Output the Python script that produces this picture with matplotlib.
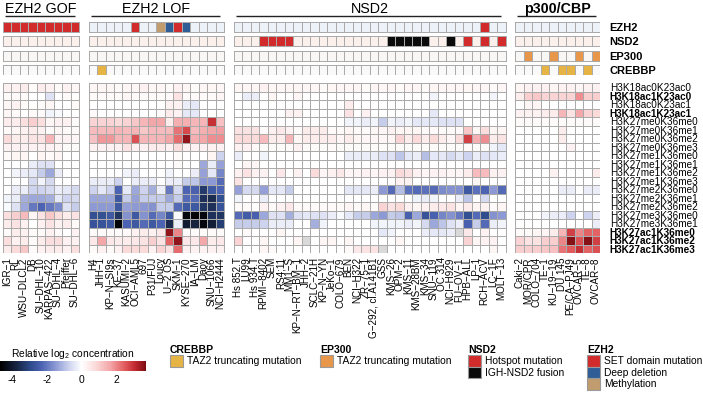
import numpy as np
import matplotlib
matplotlib.use("Agg")
import matplotlib.pyplot as plt
from matplotlib.colors import LinearSegmentedColormap, ListedColormap
from matplotlib.patches import Patch

plt.rcParams['font.family'] = ['Liberation Sans', 'DejaVu Sans']
plt.rcParams['mathtext.fontset'] = 'custom'
plt.rcParams['mathtext.rm'] = 'Liberation Sans'
plt.rcParams['mathtext.it'] = 'Liberation Sans'

nan = np.nan

marks = ['H3K18ac0K23ac0', 'H3K18ac1K23ac0', 'H3K18ac0K23ac1', 'H3K18ac1K23ac1',
         'H3K27me0K36me0', 'H3K27me0K36me1', 'H3K27me0K36me2', 'H3K27me0K36me3',
         'H3K27me1K36me0', 'H3K27me1K36me1', 'H3K27me1K36me2', 'H3K27me1K36me3',
         'H3K27me2K36me0', 'H3K27me2K36me1', 'H3K27me2K36me2',
         'H3K27me3K36me0', 'H3K27me3K36me1',
         'H3K27ac1K36me0', 'H3K27ac1K36me2', 'H3K27ac1K36me3']
bold_marks = ['H3K18ac1K23ac0', 'H3K18ac1K23ac1',
              'H3K27ac1K36me0', 'H3K27ac1K36me2', 'H3K27ac1K36me3']

genes = ['EZH2', 'NSD2', 'EP300', 'CREBBP']
group_names = ['EZH2 GOF', 'EZH2 LOF', 'NSD2', 'p300/CBP']

gof_lines = ['IGR-1', 'RL', 'WSU-DLCL2', 'DB', 'SU-DHL-10', 'KARPAS-422',
             'SU-DHL-4', 'Pfeiffer', 'SU-DHL-6']
lof_lines = ['H4', 'JHH-1', 'KP-N-SI9s', 'KE-37', 'KASUMI-2', 'OCI-AML5', '697',
             'P31/FUJ', 'Loucy', 'U-2 OS', 'SKM-1', 'KYSE-270', 'IA-LM', 'Daoy',
             'SNU-1066', 'NCI-H2444']
nsd2_lines = ['Hs 852.T', 'LU99', 'Hs 934.T', 'RPMI-8402', 'SEM', 'RS4;11', 'MM1-S',
              'KP-N-RT-BM-1', 'JHH-2', 'SCLC-21H', 'KP-N-YN', 'JeKo-1', 'COLO-679',
              'BEN', 'NCI-H322', 'ZR-75-1', 'G-292, cl.A141B1', 'GSS', 'KMS-26',
              'OPM-2', 'KMS-11', 'KMS-28BM', 'KMS-34', 'SNU-119', 'OC 314',
              'NCI-H929', 'FU-OV-1', 'HPB-ALL', 'LP-1', 'RCH-ACV', 'LC-1F', 'MOLT-13']
p300_lines = ['Caki-2', 'MOR/CPR', 'COLO-704', 'TE-1', 'KU-19-19', 'DU 145',
              'PE/CA-PJ49', 'OVCAR-5', 'TE-8', 'OVCAR-8']

# alterations: . none, S SET domain mut, H hotspot, D deep deletion, M methylation,
# F IGH-NSD2 fusion, E EP300 TAZ2 trunc, C CREBBP TAZ2 trunc
gof_alt = ['SSSSSSSSS', '.........', '.........', '.........']
lof_alt = ['.....S..MDSD....', '................', '................', '.C..............']
nsd2_alt = ['.............................S..',
            '...HHHH...........FFFFF..F.H.H.H',
            '................................',
            '................................']
p300_alt = ['..........', '..........', '.E..E..E.E', '...C.CC.C.']

gof_values = [
    [0.3, 0.3, 0.4, 0.1, 0.4, 0.3, 0.1, 0.3, 0.2],
    [0.1, 0.1, 0.1, 0.0, 0.0, -0.5, 0.0, 0.1, 0.0],
    [0.2, 0.3, 0.1, 0.0, 0.1, 0.2, 0.0, 0.0, 0.1],
    [0.2, 0.1, 0.0, 0.1, 0.1, -0.2, -0.1, 0.0, 0.0],
    [0.4, 0.4, 0.7, 1.0, 0.7, 0.2, 0.3, 0.3, 0.1],
    [0.1, 0.2, 0.3, 0.4, 0.3, 0.1, 0.2, 0.1, 0.1],
    [0.8, 0.4, 0.4, 0.6, 0.6, 1.4, 0.3, 0.3, 0.2],
    [0.3, 0.3, 0.3, 0.3, 0.3, 0.3, 0.2, 0.1, 0.1],
    [0.1, 0.2, 0.2, 0.0, 0.2, 0.1, 0.2, 0.0, 0.0],
    [0.0, 0.0, 0.0, -0.3, -0.5, -0.5, 0.0, 0.0, 0.0],
    [0.0, -0.2, -0.3, -0.4, -0.8, -1.3, -0.3, 0.0, 0.0],
    [0.0, 0.0, 0.0, -0.6, -0.2, -0.6, 0.0, 0.0, 0.0],
    [0.0, -0.3, -0.3, -0.7, -0.7, -0.6, -0.3, -0.4, -0.6],
    [-0.2, -0.3, -1.2, -1.3, -1.3, -1.2, -0.4, -0.7, -0.6],
    [-0.1, -0.5, -1.3, -2.0, -2.3, -2.0, -1.7, -0.5, -0.8],
    [0.7, 1.0, 1.3, 0.2, 0.6, 1.1, 0.7, 0.4, 0.6],
    [0.4, 0.6, 0.3, 0.0, 0.3, 0.6, 0.3, 0.4, 0.1],
    [0.1, 0.4, 0.3, 0.1, 0.1, 0.3, 0.1, 0.0, 0.3],
    [0.7, 0.3, 0.4, 0.1, 0.4, 0.7, 0.7, 0.3, 0.3],
    [0.4, 0.8, 1.1, 0.1, 0.3, 0.4, 0.4, 0.3, 0.7],
]

lof_values = [
    [0.2, 0.2, 0.2, 0.1, 0.2, 0.2, 0.3, 0.2, 0.2, 0.1, 0.3, 0.2, 0.1, 0.2, 0.2, 0.2],
    [0.1, 0.1, 0.1, 0.1, 0.2, 0.1, 0.1, 0.1, 0.1, 0.1, 0.6, 0.1, 0.1, 0.1, 0.1, 0.2],
    [0.0, 0.0, 0.0, 0.0, 0.0, 0.0, 0.0, 0.0, 0.0, 0.3, 0.3, -0.3, -0.4, 0.0, 0.0, 0.0],
    [0.1, 0.0, 0.0, 0.0, 0.0, 0.0, 0.0, 0.0, 0.1, 0.4, 0.3, -0.4, -0.4, 0.0, 0.0, 0.0],
    [0.9, 0.9, 0.9, 0.8, 0.9, 1.1, 1.4, 1.6, 1.6, 0.4, 1.5, 1.5, 1.4, 1.4, 3.0, 1.2],
    [1.3, 1.3, 1.3, 1.4, 1.3, 1.4, 1.1, 1.3, 1.3, 1.3, 2.2, 2.7, 1.3, 1.5, 1.6, 1.7],
    [1.2, 1.8, 1.8, 1.4, 1.4, 2.6, 1.4, 1.4, 1.4, 1.6, 2.3, 3.5, 1.5, 1.6, 1.9, 1.9],
    [0.3, 0.3, 0.3, 0.3, 0.6, 0.3, 0.3, 0.4, 0.4, 0.3, 0.7, 0.3, 0.3, 0.3, 0.3, 0.3],
    [0.0, 0.0, 0.0, 0.0, 0.0, 0.0, 0.0, 0.0, 0.0, 0.0, 0.1, 0.0, 0.0, 0.0, 0.2, -0.7],
    [0.0, 0.0, 0.0, 0.0, 0.0, 0.0, 0.0, 0.0, 0.0, 0.0, 0.1, 0.0, 0.0, -1.3, -0.3, -1.4],
    [0.0, 0.0, 0.0, 0.0, -0.2, -0.3, 0.0, 0.0, 0.0, -0.2, 0.0, 0.0, -0.3, -1.4, -0.4, -1.8],
    [-0.3, -0.3, -0.3, -0.7, 0.0, -0.3, -0.3, -0.3, 0.0, -0.3, -0.3, -0.8, -0.9, -1.5, -1.5, -2.2],
    [-0.7, -0.4, -0.7, -2.3, -0.4, -1.3, -0.7, -1.2, -0.3, -2.0, -0.6, -2.3, -2.4, -3.3, -2.6, -2.3],
    [-1.3, -1.3, -1.3, -2.6, -0.8, -1.4, -0.8, -0.8, -0.8, -1.3, -0.8, -2.2, -2.2, -3.5, -3.6, -2.8],
    [-1.5, -1.5, -1.5, -2.6, -1.4, -1.5, -1.5, -1.6, -0.8, -0.8, -2.2, -2.6, -2.6, -3.4, -3.5, -2.7],
    [-2.8, -2.8, -2.6, -3.4, -1.6, -2.6, -1.6, -2.2, -1.8, -2.6, -0.1, -4.5, -4.6, -4.5, -3.5, -3.4],
    [-2.7, -2.7, -2.6, -4.6, -2.3, -2.6, -2.2, -2.6, -2.3, -3.6, -0.3, -4.0, -3.8, -4.5, -3.9, -3.2],
    [0.1, 0.1, 0.1, 0.1, 0.1, 0.3, 0.4, 0.3, 0.5, 3.5, 2.0, 0.1, 0.1, 0.1, 0.1, 0.1],
    [0.5, 1.6, 0.5, 0.4, 0.4, 0.5, 0.6, 1.0, 0.6, 2.4, 3.5, 0.5, 0.5, 1.6, 0.4, 0.5],
    [0.1, 0.3, 0.1, 0.3, 0.8, 0.8, 0.8, 0.3, 0.9, 0.6, 2.3, 0.3, 0.3, 0.3, 0.3, 0.3],
]

nsd2_values = [
    [0.2, 0.2, 0.2, 0.3, 0.2, 0.2, 0.2, 0.2, 0.2, 0.2, 0.1, 0.2, 0.2, 0.2, 0.2, 0.1,
     0.2, 0.2, 0.2, 0.1, 0.2, 0.2, 0.1, 0.2, 0.2, 0.2, 0.2, 0.2, 0.2, 0.2, 0.1, 0.2],
    [0.0, -0.3, -0.3, 0.0, 0.2, 0.0, 0.0, 0.2, 0.0, 0.0, 0.0, 0.0, 0.0, 0.0, 0.0, 0.0,
     0.0, 0.0, 0.0, 0.0, 0.0, 0.0, 0.0, -0.2, 0.0, 0.0, 0.0, 0.0, 0.0, 0.0, -0.2, 0.0],
    [0.0, 0.0, 0.0, 0.0, 0.0, 0.0, 0.0, 0.0, 0.0, 0.0, 0.0, 0.0, 0.0, 0.4, 0.0, 0.0,
     0.0, 0.0, 0.0, 0.0, 0.0, 0.0, 0.0, 0.0, 0.0, 0.0, 0.0, 0.0, 0.0, 0.0, 0.0, 0.0],
    [0.0, 0.0, 0.0, 0.0, 0.0, 0.0, 0.3, 0.3, 0.0, 0.0, 0.0, 0.0, 0.0, 0.6, 0.0, 0.3,
     0.0, 0.0, 0.0, 0.0, 0.0, 0.0, 0.0, -0.4, 0.0, 0.0, 0.0, 0.0, 0.0, 0.0, 0.0, 0.0],
    [0.0, 0.0, 0.0, 0.0, 0.0, 0.0, 0.0, 0.0, 0.0, 0.0, 0.0, 0.0, 0.0, -0.2, -0.2, -0.3,
     -0.2, -0.8, -0.2, -0.3, -0.2, -0.4, -0.4, -0.4, -0.5, -0.5, -0.5, 0.0, 0.0, 0.0, 0.0, 0.0],
    [0.6, 0.6, 0.6, 0.1, 0.3, 0.5, 0.3, 0.1, 0.4, 0.4, 0.4, 0.1, 0.1, 0.2, 0.1, 0.1,
     0.2, 0.2, 0.3, 0.2, 0.2, 0.2, 0.1, 0.1, 0.1, 0.1, 0.1, 1.1, 0.2, 0.7, 0.2, 0.2],
    [0.8, 0.8, 0.8, 1.3, 0.4, 0.4, 1.4, 0.2, 0.4, 0.4, 0.4, 0.4, 0.2, 0.4, 0.2, 0.2,
     0.2, 0.2, 0.2, 0.9, 0.4, 0.8, 0.4, 0.8, 0.4, 0.2, 0.8, 2.8, 1.5, 1.9, 0.4, 0.6],
    [0.3, 0.3, 0.1, 0.1, 0.1, 0.1, 0.1, 0.3, 0.1, 0.1, 0.1, 0.1, 0.1, 0.1, 0.1, 0.1,
     0.1, 0.1, 0.1, 0.1, 0.1, 0.1, 0.1, 0.1, 0.1, 0.1, 0.1, 0.1, 0.1, 0.1, -0.2, -0.4],
    [-0.3, 0.0, 0.0, -0.2, 0.0, 0.0, 0.0, 0.0, 0.0, 0.0, 0.0, 0.0, 0.0, -0.3, -0.3, -0.3,
     -0.3, -0.5, -0.5, -0.9, -0.4, -0.3, -1.0, -0.4, -0.4, -0.6, -0.4, -0.7, -0.3, -0.5, -0.4, -0.3],
    [0.0, 0.2, 0.2, 0.0, 0.0, 0.0, 0.0, 0.0, 0.0, 0.0, 0.0, 0.0, 0.0, 0.0, 0.0, 0.0,
     0.0, 0.0, 0.0, 0.0, 0.0, 0.0, 0.0, 0.0, 0.0, 0.0, 0.0, 0.0, 0.0, 0.0, 0.0, 0.0],
    [0.3, 0.6, 0.3, 0.3, 0.0, 0.5, 0.0, 0.3, 0.0, 0.8, 0.2, 0.3, 0.5, 0.2, 0.2, 0.3,
     0.2, 0.3, 0.3, 0.8, 0.6, 0.3, 0.2, 0.3, 0.3, 0.2, 0.2, 0.4, 1.3, 1.3, 0.3, 0.3],
    [0.6, 0.0, 0.0, 0.0, 0.0, 0.0, 0.0, 0.0, 0.0, 0.0, 0.0, 0.0, 0.0, 0.0, 0.0, 0.0,
     0.0, 0.0, 0.0, 0.3, 0.3, 0.0, 0.0, 0.0, 0.0, 0.0, 0.0, 0.0, 0.2, 0.0, 0.0, 0.0],
    [-1.4, -0.6, -0.6, -1.4, -0.4, -0.4, -0.8, 0.0, 0.0, 0.0, 0.0, 0.0, 0.0, -0.4, -0.4, -0.4,
     -0.3, -1.5, -2.2, -1.0, -2.1, -2.2, -2.1, -2.2, -1.7, -1.6, -1.6, -2.6, -2.1, -2.3, -1.5, -2.2],
    [-0.2, 0.0, 0.0, -0.3, 0.0, 0.0, 0.0, 0.0, 0.0, 0.0, 0.0, 0.0, 0.0, 0.0, 0.0, 0.0,
     0.0, 0.0, 0.0, 0.0, 0.0, -0.2, -0.3, -0.2, 0.0, 0.0, -0.3, -0.9, 0.0, -0.6, 0.0, 0.0],
    [0.1, 0.1, 0.0, 0.3, 0.1, 0.3, 0.5, 0.1, 0.1, 0.1, 0.1, 0.1, 0.1, 0.2, 0.1, 0.2,
     0.1, 0.9, 0.6, 0.8, 0.3, 0.2, 0.3, 0.4, 0.5, 0.6, 0.2, 0.4, 0.2, 0.3, 0.1, 0.2],
    [-2.2, -2.5, -2.4, -1.3, -0.5, -0.5, -1.2, -0.5, -0.4, -0.5, -0.5, -0.3, -0.1, -0.4, -0.8, -0.8,
     -1.3, -1.5, -0.8, -0.9, -2.4, -1.3, -2.7, -2.4, -1.8, -1.6, -2.0, -2.8, -2.2, -2.9, -1.6, -1.5],
    [-0.8, -0.8, -0.8, -0.7, -0.3, -0.3, -0.3, 0.0, 0.0, -1.2, -0.2, 0.0, 0.0, 0.0, 0.0, 0.0,
     -0.2, -0.2, -0.2, -0.2, -0.3, -0.2, -0.6, -1.3, -0.9, -0.5, -0.3, -2.4, -0.8, -2.2, -0.3, -0.2],
    [0.0, 0.1, 0.0, 0.0, 0.0, 0.2, 0.0, 0.0, 0.0, 0.0, 0.0, 0.0, 0.0, 0.0, 0.0, 0.0,
     0.0, -0.4, -0.2, 0.0, 0.0, 0.0, -0.3, -0.4, -0.4, -0.3, nan, 0.5, 0.0, 0.3, 0.0, 0.0],
    [0.9, 0.0, 0.0, 0.2, 0.0, 0.0, 0.0, 0.2, nan, 0.0, 0.2, 0.2, 0.0, 0.2, 0.0, 0.0,
     0.0, 0.0, 0.0, 0.2, 0.0, 0.0, 0.0, 0.0, 0.0, 0.0, 0.0, 0.9, 0.2, 0.3, 0.3, 0.0],
    [0.0, 0.0, 0.0, 0.2, 0.1, 0.0, 0.0, 0.0, 0.0, 0.0, 0.0, 0.0, 0.0, 0.1, 0.5, 0.6,
     0.6, nan, 0.0, 0.0, 0.0, 0.0, 0.0, 0.0, 0.0, 0.0, 0.0, 0.0, 0.0, 0.0, 0.2, 0.0],
]

p300_values = [
    [0.2, 0.3, 0.3, 0.3, 0.2, 0.3, 0.3, 0.2, 0.3, 0.3],
    [0.4, 1.0, 1.1, 0.9, 0.9, 0.9, 0.9, 1.9, 1.0, 1.0],
    [0.0, 0.2, 0.2, 0.0, 0.0, 0.0, 0.0, 0.0, 0.0, 0.0],
    [0.3, 0.3, 0.3, 0.4, 0.4, 1.4, 0.6, 1.6, 0.9, 0.8],
    [0.1, 0.1, 0.1, 0.1, 0.1, 0.1, 0.1, 0.1, 0.1, 0.1],
    [0.0, 0.0, 0.0, 0.0, 0.0, 0.4, 0.0, 0.0, 0.0, 0.0],
    [0.0, 0.0, 0.0, 0.0, 0.0, 0.4, 0.0, 0.0, 0.0, 0.0],
    [0.0, 0.0, 0.0, 0.0, 0.0, 0.0, 0.3, 0.0, 0.0, 0.0],
    [0.0, 0.0, 0.0, 0.0, 0.0, 0.0, 0.0, 0.0, 0.0, 0.0],
    [0.0, 0.0, 0.0, 0.0, 0.0, 0.0, 0.0, 0.0, 0.0, 0.0],
    [0.0, 0.0, 0.0, 0.0, 0.3, 0.0, 0.0, 0.0, 0.0, 0.4],
    [0.0, 0.0, 0.0, 0.0, 0.0, 0.0, 0.0, 0.0, 0.0, 0.0],
    [0.0, 0.0, 0.0, 0.0, 0.0, -0.3, -0.3, 0.0, -0.3, -0.3],
    [0.0, 0.0, 0.0, 0.0, 0.0, 0.0, 0.0, 0.0, 0.0, 0.0],
    [0.0, 0.0, 0.0, 0.0, 0.0, 0.0, 0.0, 0.0, 0.0, 0.0],
    [0.0, 0.0, 0.0, -0.2, -0.3, -0.3, -0.7, 0.0, -0.7, -0.3],
    [0.0, 0.0, 0.0, 0.0, 0.0, 0.0, 0.0, 0.0, 0.0, -0.3],
    [0.1, 0.1, 0.2, 0.2, 0.4, 1.4, 2.8, 2.0, 2.4, 2.4],
    [0.9, 0.6, 0.6, 1.0, 1.0, 2.0, 3.6, 2.6, 3.6, 2.8],
    [1.0, 1.0, 1.0, 1.1, 1.2, 2.2, 2.5, 3.0, 2.4, 2.6],
]

legend_sections = [
    ('CREBBP', [('C', 'TAZ2 truncating mutation')]),
    ('EP300', [('E', 'TAZ2 truncating mutation')]),
    ('NSD2', [('H', 'Hotspot mutation'), ('F', 'IGH-NSD2 fusion')]),
    ('EZH2', [('S', 'SET domain mutation'), ('D', 'Deep deletion'), ('M', 'Methylation')]),
]

# ---- styling ----
alt_colors = {'S': '#d22b2b', 'H': '#d22b2b', 'D': '#2f5d95', 'M': '#c09c6e',
              'F': '#0a0a0a', 'E': '#e8964a', 'C': '#e5b445'}
row_bg = ['#edf1f8', '#fcf0ed', '#f8f7f5', '#f9f9f9']
grid_col = '#aaaaaa'

vmin, vmax = -4.7, 3.7
stops = [(-4.7, '#000000'), (-3.8, '#16223f'), (-3.0, '#2b4988'), (-2.3, '#4c63b3'),
         (-1.5, '#8c99d4'), (-0.7, '#cfd5ef'), (0.0, '#ffffff'), (0.8, '#fbdada'),
         (1.7, '#f3a2a5'), (2.5, '#e15a5c'), (3.1, '#c0282e'), (3.7, '#7b0c12')]
cmap = LinearSegmentedColormap.from_list(
    'conc', [((v - vmin) / (vmax - vmin), c) for v, c in stops])
cmap.set_bad('#d9d9d9')

codes = list(alt_colors.keys())
ann_cmap = ListedColormap(row_bg + [alt_colors[k] for k in codes])

W, H = 703, 401
fig = plt.figure(figsize=(W / 100, H / 100), dpi=100)


def box(x0, y0, x1, y1):
    return [x0 / W, 1 - y1 / H, (x1 - x0) / W, (y1 - y0) / H]


ax = fig.add_axes(box(2.7, 83, 600, 253))
ax_ann = fig.add_axes(box(2.7, 21.9, 600, 74.8))

group_lines = [gof_lines, lof_lines, nsd2_lines, p300_lines]
group_vals = [np.array(v, dtype=float) for v in
              (gof_values, lof_values, nsd2_values, p300_values)]
group_alt = [gof_alt, lof_alt, nsd2_alt, p300_alt]

gap = 1.1
starts = []
x = 0.0
for lines in group_lines:
    starts.append(x)
    x += len(lines) + gap
total = x - gap

pitch = 1.43
for s, vals, alts, name in zip(starts, group_vals, group_alt, group_names):
    n = vals.shape[1]
    xe = s + np.arange(n + 1)
    ax.pcolormesh(xe, np.arange(len(marks) + 1), np.ma.masked_invalid(vals),
                  cmap=cmap, vmin=vmin, vmax=vmax, edgecolors=grid_col, linewidth=0.6)
    for r, row in enumerate(alts):
        c = np.array([[r if ch == '.' else len(row_bg) + codes.index(ch) for ch in row]])
        ax_ann.pcolormesh(xe, [r * pitch, r * pitch + 1], c, cmap=ann_cmap,
                          vmin=-0.5, vmax=ann_cmap.N - 0.5,
                          edgecolors=grid_col, linewidth=0.6)
    ax_ann.text(s + n / 2, -1.3, name, ha='center', va='center', fontsize=10.3,
                fontweight='bold' if name == 'p300/CBP' else 'normal', clip_on=False)
    ax_ann.plot([s + 0.25, s + n - 0.5], [-0.6, -0.6], color='#222222', lw=1.0,
                clip_on=False, solid_capstyle='butt')

ax.set_xlim(0, total)
ax.set_ylim(len(marks), 0)
centers = np.concatenate([s + np.arange(len(l)) + 0.5 for s, l in zip(starts, group_lines)])
ax.set_xticks(centers)
ax.set_xticklabels([l.replace('-', '\u2212') for l in sum(group_lines, [])],
                   rotation=90, fontsize=7.1)
ax.tick_params(axis='x', length=0, pad=3)
ax.yaxis.tick_right()
ax.set_yticks(np.arange(len(marks)) + 0.5)
ax.set_yticklabels(marks, fontsize=7.2)
ax.tick_params(axis='y', length=0, pad=7)
for t in ax.get_yticklabels():
    if t.get_text() in bold_marks:
        t.set_fontweight('bold')

ax_ann.set_xlim(0, total)
ax_ann.set_ylim(3 * pitch + 1, 0)
ax_ann.set_xticks([])
ax_ann.yaxis.tick_right()
ax_ann.set_yticks(np.arange(len(genes)) * pitch + 0.5)
ax_ann.set_yticklabels(genes, fontsize=8, fontweight='bold')
ax_ann.tick_params(axis='y', length=0, pad=7)
for a in (ax, ax_ann):
    for sp in a.spines.values():
        sp.set_visible(False)

# colour bar
cax = fig.add_axes(box(0, 361, 146, 371))
sm = plt.cm.ScalarMappable(cmap=cmap, norm=plt.Normalize(vmin, vmax))
cb = fig.colorbar(sm, cax=cax, orientation='horizontal')
cb.outline.set_visible(False)
cb.set_ticks([-4, -2, 0, 2])
cb.set_ticklabels(['-4', '-2', '0', '2'])
cax.tick_params(length=0, pad=3, labelsize=7.4)
cax.set_title('Relative log$_2$ concentration', fontsize=7.4, pad=3)

# mutation legends
leg_x = [170, 320, 468, 587]
for lx, (title, items) in zip(leg_x, legend_sections):
    handles = [Patch(facecolor=alt_colors[k], edgecolor='#9a9a9a', linewidth=0.8)
               for k, _ in items]
    fig.legend(handles, [t for _, t in items], title=title, loc='upper left',
               bbox_to_anchor=(lx / W, 1 - 345 / H), frameon=False, fontsize=7.4,
               title_fontproperties={'weight': 'bold', 'size': 7.5}, alignment='left',
               handlelength=1.3, handleheight=1.36, handletextpad=0.35,
               labelspacing=0, borderpad=0, borderaxespad=0)

fig.savefig('out.png', dpi=100)
